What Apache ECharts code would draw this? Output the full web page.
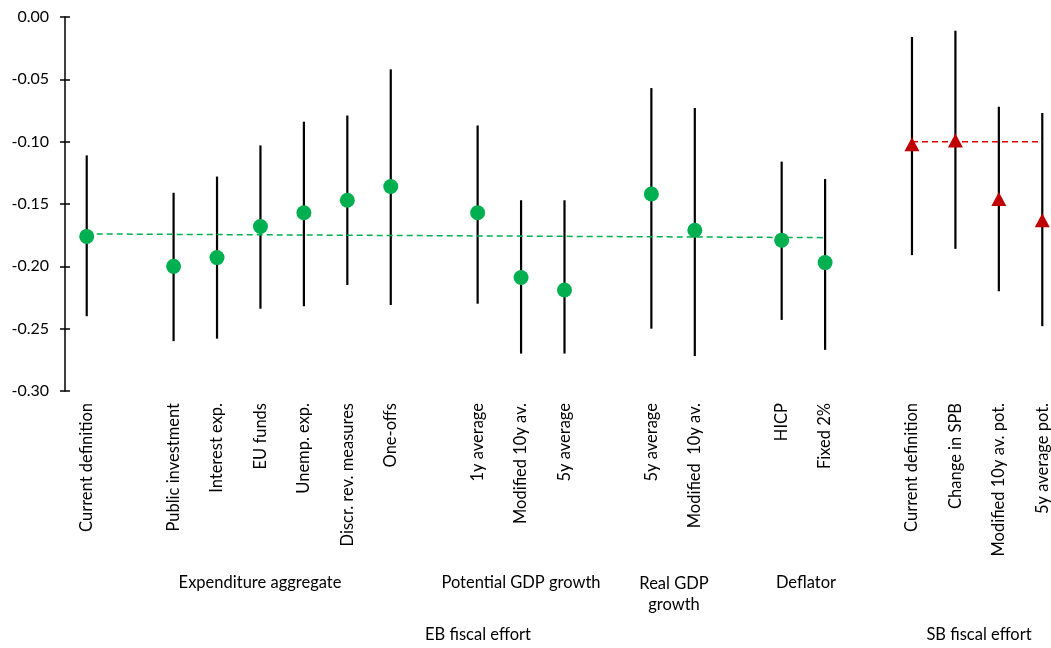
<!DOCTYPE html>
<html><head><meta charset="utf-8">
<script src="https://cdn.jsdelivr.net/npm/echarts@6/dist/echarts.min.js"></script>
<style>html,body{margin:0;padding:0;background:#fff}#c{width:1051px;height:648px}</style>
</head><body><div id="c"></div>
<script>
const categories = ['Current definition', '', 'Public investment', 'Interest exp.', 'EU funds', 'Unemp. exp.',
  'Discr. rev. measures', 'One-offs', '', '1y average', 'Modified 10y av.', '5y average', '',
  '5y average', 'Modified  10y av.', '', 'HICP', 'Fixed 2%', '',
  'Current definition', 'Change in SPB', 'Modified 10y av. pot.', '5y average pot.'];
const groupOf = ['EB', null, 'EB', 'EB', 'EB', 'EB', 'EB', 'EB', null, 'EB', 'EB', 'EB', null,
  'EB', 'EB', null, 'EB', 'EB', null, 'SB', 'SB', 'SB', 'SB'];
const central = [-0.176, null, -0.200, -0.193, -0.168, -0.157, -0.147, -0.136, null, -0.157, -0.209, -0.219, null,
  -0.142, -0.171, null, -0.179, -0.197, null, -0.102, -0.099, -0.146, -0.163];
const upper = [-0.111, null, -0.141, -0.128, -0.103, -0.084, -0.079, -0.042, null, -0.087, -0.147, -0.147, null,
  -0.057, -0.073, null, -0.116, -0.130, null, -0.016, -0.011, -0.072, -0.077];
const lower = [-0.240, null, -0.260, -0.258, -0.234, -0.232, -0.215, -0.231, null, -0.230, -0.270, -0.270, null,
  -0.250, -0.272, null, -0.243, -0.267, null, -0.191, -0.186, -0.220, -0.248];
const ebTrend = [[0, -0.174], [17, -0.177]];
const sbTrend = [[19, -0.100], [22, -0.100]];
const groupLabels = ['Expenditure aggregate', 'Potential GDP growth', 'Real GDP\ngrowth', 'Deflator', 'EB fiscal effort', 'SB fiscal effort'];

const FONT = 'Lato';
const FS = 16.5;
const errData = [], ebPts = [], sbPts = [];
categories.forEach((c, i) => {
  if (central[i] === null) return;
  errData.push([i, lower[i], upper[i]]);
  if (groupOf[i] === 'EB') ebPts.push([i, central[i]]);
  else sbPts.push([i, central[i]]);
});

const textStyle = (t, x, y) => ({
  type: 'text', x: x, y: y,
  style: { text: t, font: FS + 'px ' + FONT, fill: '#000', textAlign: 'center', textVerticalAlign: 'middle', lineHeight: 21 }
});

const chart = echarts.init(document.getElementById('c'), null, { renderer: 'canvas' });
chart.setOption({
  animation: false,
  backgroundColor: '#fff',
  grid: { left: 65, top: 17, width: 999, height: 374, containLabel: false, outerBoundsMode: 'none' },
  xAxis: {
    type: 'category', data: categories, boundaryGap: true,
    axisLine: { show: false }, axisTick: { show: false }, splitLine: { show: false },
    axisLabel: { rotate: 90, interval: 0, margin: 12, fontSize: FS, fontFamily: FONT, color: '#000' }
  },
  yAxis: [{
    type: 'value', min: -0.3, max: 0, interval: 0.05,
    axisLine: { show: true, lineStyle: { color: '#000', width: 1.5 } },
    axisTick: { show: true, inside: false, length: 5, lineStyle: { color: '#000', width: 1.5 } },
    splitLine: { show: false },
    axisLabel: { margin: 16, fontSize: 16, fontFamily: FONT, color: '#000', formatter: v => v.toFixed(2) }
  }, {
    type: 'value', min: -0.3, max: 0, interval: 0.05, position: 'left',
    axisLine: { show: false },
    axisTick: { show: true, inside: true, length: 5, lineStyle: { color: '#000', width: 1.5 } },
    splitLine: { show: false }, axisLabel: { show: false }
  }],
  series: [{
    type: 'custom', data: errData, encode: { x: 0, y: [1, 2] }, z: 2,
    renderItem: (params, api) => {
      const a = api.coord([api.value(0), api.value(1)]);
      const b = api.coord([api.value(0), api.value(2)]);
      return { type: 'line', shape: { x1: a[0], y1: a[1], x2: b[0], y2: b[1] }, style: { stroke: '#000', lineWidth: 2.2 } };
    }
  }, {
    type: 'line', data: ebTrend, symbol: 'none', z: 3,
    lineStyle: { color: '#00B050', width: 1.5, type: [6, 4] }
  }, {
    type: 'line', data: sbTrend, symbol: 'none', z: 3,
    lineStyle: { color: '#E00000', width: 1.5, type: [6, 4] }
  }, {
    type: 'scatter', data: ebPts, symbol: 'circle', symbolSize: 15, z: 4,
    itemStyle: { color: '#00B050', opacity: 1 }
  }, {
    type: 'scatter', data: sbPts, symbol: 'triangle', symbolSize: [15, 14], z: 4,
    itemStyle: { color: '#C00000', opacity: 1 }
  }],
  graphic: [
    textStyle(groupLabels[0], 260, 583),
    textStyle(groupLabels[1], 521, 583),
    textStyle(groupLabels[2], 674, 594),
    textStyle(groupLabels[3], 806, 583),
    textStyle(groupLabels[4], 478, 635),
    textStyle(groupLabels[5], 979, 635)
  ]
});
</script></body></html>
